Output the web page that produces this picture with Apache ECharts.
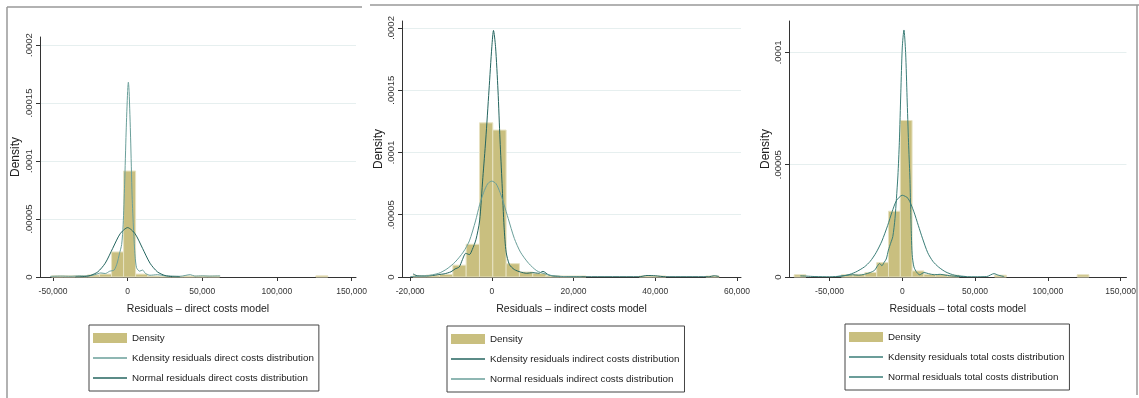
<!DOCTYPE html>
<html>
<head>
<meta charset="utf-8">
<script src="https://cdn.jsdelivr.net/npm/echarts@6/dist/echarts.min.js"></script>
<style>
  html, body { margin: 0; padding: 0; background: #fff; }
  #chart { width: 1139px; height: 398px; }
</style>
</head>
<body>
<div id="chart"></div>
<script>
// histogram bins (edges) and densities
const directEdges = [-51000, -42950, -34900, -26850, -18800, -10750, -2700, 5350, 13400, 21450, 29500, 37550,
  45600, 53650, 61700, 69750, 77800, 85850, 93900, 101950, 110000, 118050, 126100, 134150];
const directDensity = [0.0000010, 0.0000010, 0.0000010, 0.0000018, 0.0000025, 0.0000216, 0.0000914, 0.0000025,
  0.0000008, 0.0000005, 0.0000005, 0.0000008, 0.0000008, 0.0000008, 0, 0, 0, 0, 0, 0, 0, 0, 0.0000010];

const indirectEdges = [-19330, -16070, -12810, -9550, -6290, -3030, 230, 3490, 6750, 10010, 13270, 16530,
  19790, 23050, 26310, 29570, 32830, 36090, 39350, 42610, 45870, 49130, 52390, 55650];
const indirectDensity = [0.0000010, 0.0000015, 0.0000020, 0.0000095, 0.0000263, 0.0001238, 0.0001180, 0.0000107,
  0.0000040, 0.0000028, 0.0000010, 0.0000008, 0.0000008, 0, 0, 0, 0, 0.0000008, 0.0000008, 0, 0, 0, 0.0000008];

const totalEdges = [-74260, -66160, -58060, -49960, -41860, -33760, -25660, -17560, -9460, -1360, 6740, 14840,
  22940, 31040, 39140, 47240, 55340, 63440, 71540, 79640, 87740, 95840, 103940, 112040, 120140, 128240];
const totalDensity = [0.0000010, 0, 0, 0, 0.0000010, 0.0000012, 0.0000020, 0.0000064, 0.0000293, 0.0000697,
  0.0000027, 0.0000012, 0.0000010, 0.0000008, 0, 0, 0, 0.0000008, 0, 0, 0, 0, 0, 0, 0.0000010];

// kernel density curves
const directKdensity = [[-52000, 0.0000005], [-45000, 0.0000008], [-38000, 0.0000006], [-32000, 0.0000010],
  [-27000, 0.0000008], [-22000, 0.0000020], [-18000, 0.0000035], [-15000, 0.0000030], [-12000, 0.0000050],
  [-9000, 0.0000060], [-7000, 0.000012], [-5500, 0.000020], [-4000, 0.000028], [-3000, 0.000045],
  [-2000, 0.000080], [-1000, 0.000125], [0, 0.000160], [500, 0.000168], [1000, 0.000160], [2000, 0.000120],
  [3000, 0.000070], [4000, 0.000040], [5000, 0.000018], [6000, 0.000008], [8000, 0.000005], [10000, 0.000006],
  [12000, 0.000003], [15000, 0.0000015], [20000, 0.0000020], [25000, 0.0000010], [30000, 0.0000008],
  [35000, 0.0000006], [42000, 0.0000020], [45000, 0.0000008], [50000, 0.0000010], [55000, 0.0000008],
  [62000, 0.0000010]];
const indirectKdensity = [[-19300, 0.0000025], [-18300, 0.0000010], [-16000, 0.0000008], [-14500, 0.0000012],
  [-13000, 0.0000020], [-11700, 0.0000025], [-10000, 0.0000042], [-9000, 0.0000065], [-8000, 0.0000080],
  [-7200, 0.000014], [-6400, 0.000019], [-5500, 0.000018], [-4800, 0.000022], [-3900, 0.000030],
  [-3000, 0.000045], [-2200, 0.000080], [-1500, 0.000110], [-700, 0.000150], [0, 0.000185], [400, 0.000198],
  [900, 0.000185], [1500, 0.000150], [2000, 0.000110], [2500, 0.000075], [3000, 0.000040], [3500, 0.000020],
  [4300, 0.000010], [5500, 0.000006], [7000, 0.000004], [8500, 0.000003], [10000, 0.0000035],
  [11500, 0.000003], [12500, 0.0000045], [14000, 0.0000015], [16000, 0.0000005], [20000, 0.0000003],
  [23000, 0.0000002], [36000, 0.0000002], [38000, 0.0000012], [40000, 0.0000010], [42500, 0.0000002],
  [53000, 0.0000002], [54500, 0.0000010], [55600, 0.0000004]];
const totalKdensity = [[-70000, 0.0000005], [-66000, 0.0000004], [-60000, 0.0000002], [-50000, 0.0000001],
  [-42000, 0.0000004], [-38000, 0.0000008], [-34000, 0.0000010], [-30000, 0.0000008], [-26000, 0.0000012],
  [-22000, 0.0000020], [-19000, 0.0000030], [-17000, 0.0000050], [-15500, 0.0000060], [-14000, 0.0000050],
  [-12500, 0.0000065], [-11000, 0.0000080], [-9500, 0.000012], [-8000, 0.000015], [-6500, 0.000018],
  [-5000, 0.000026], [-4000, 0.000035], [-3000, 0.000045], [-2000, 0.000060], [-1000, 0.000082],
  [0, 0.000102], [1150, 0.000110], [2300, 0.000100], [3300, 0.000080], [4300, 0.000060], [5200, 0.000045],
  [5800, 0.000030], [6300, 0.000018], [6800, 0.000010], [8000, 0.0000045], [10000, 0.0000020],
  [12000, 0.0000010], [15000, 0.0000020], [18000, 0.0000015], [22000, 0.0000010], [26000, 0.0000012],
  [30000, 0.0000008], [35000, 0.0000004], [40000, 0.0000002], [50000, 0.0000001], [58000, 0.0000002],
  [63000, 0.0000015], [66000, 0.0000008], [70000, 0.0000002]];

// normal curves
const directNormal = [[-35000, 0.0000001], [-30000, 0.0000003], [-25000, 0.0000013], [-20000, 0.0000044],
  [-15000, 0.0000119], [-10000, 0.0000247], [-5000, 0.0000373], [0, 0.0000426], [5000, 0.0000373],
  [10000, 0.0000247], [15000, 0.0000119], [20000, 0.0000044], [25000, 0.0000013], [30000, 0.0000003],
  [35000, 0.0000001]];
const indirectNormal = [[-20000, 0.0000003], [-16000, 0.0000010], [-13000, 0.0000030], [-11000, 0.0000065],
  [-9000, 0.000012], [-7000, 0.000020], [-5500, 0.000029], [-4000, 0.000045], [-3000, 0.000058],
  [-2000, 0.000068], [-1000, 0.000075], [0, 0.000077], [1000, 0.000075], [2000, 0.000068], [3000, 0.000058],
  [4000, 0.000047], [5500, 0.000031], [7000, 0.000020], [9000, 0.000011], [11000, 0.0000050],
  [13000, 0.0000025], [15000, 0.0000010], [18000, 0.0000003], [22000, 0]];
const totalNormal = [[-45000, 0.0000002], [-38000, 0.0000008], [-32000, 0.0000022], [-26000, 0.0000045],
  [-22000, 0.0000070], [-18000, 0.0000108], [-14000, 0.000016], [-10000, 0.000023], [-7000, 0.000029],
  [-4000, 0.000034], [0, 0.0000364], [4000, 0.000035], [8000, 0.000029], [11000, 0.000023], [14000, 0.000017],
  [17500, 0.0000108], [21000, 0.0000070], [25000, 0.0000044], [30000, 0.0000022], [36000, 0.0000008],
  [44000, 0.0000002]];

// tick labels
const directXTicks = [-50000, 0, 50000, 100000, 150000];
const indirectXTicks = [-20000, 0, 20000, 40000, 60000];
const totalXTicks = [-50000, 0, 50000, 100000, 150000];
const directYTicks = [0, 0.00005, 0.0001, 0.00015, 0.0002];
const indirectYTicks = [0, 0.00005, 0.0001, 0.00015, 0.0002];
const totalYTicks = [0, 0.00005, 0.0001];

const FONT = '"Liberation Sans", Arial, sans-serif';
const BAR_COLOR = "#c9bf7f";
const DARK_TEAL = "#24655f";
const LIGHT_TEAL = "#6a9f9a";
const LINE_ICON = "path://M0,0H34V1.6H0Z";

function toBins(edges, dens) {
  return dens.map((d, i) => [edges[i], edges[i + 1], d]).filter((b) => b[2] > 0);
}

function yFormat(v) {
  if (v === 0) return "0";
  return String(+v.toFixed(6)).replace(/^0\./, ".");
}

function xAxis(idx, min, max, ticks, name) {
  return {
    type: "value",
    gridIndex: idx,
    min: min,
    max: max,
    name: name,
    nameLocation: "middle",
    nameGap: 27,
    nameTextStyle: { fontFamily: FONT, fontSize: 10.5, color: "#222" },
    axisLine: { onZero: false, lineStyle: { color: "#333", width: 1 } },
    axisTick: { show: true, length: 4, customValues: ticks, lineStyle: { color: "#333" } },
    axisLabel: {
      customValues: ticks,
      formatter: (v) => v.toLocaleString("en-US"),
      fontFamily: FONT,
      fontSize: 8.5,
      color: "#333",
      margin: 10,
    },
    splitLine: { show: false },
  };
}

function yAxis(idx, max, ticks, gap) {
  return {
    type: "value",
    gridIndex: idx,
    min: 0,
    max: max,
    name: "Density",
    nameLocation: "middle",
    nameRotate: 90,
    nameGap: gap,
    nameTextStyle: { fontFamily: FONT, fontSize: 12, color: "#222" },
    axisLine: { show: true, onZero: false, lineStyle: { color: "#333", width: 1 } },
    axisTick: { show: true, length: 4, customValues: ticks, lineStyle: { color: "#333" } },
    axisLabel: {
      customValues: ticks,
      rotate: 90,
      formatter: yFormat,
      fontFamily: FONT,
      fontSize: 9.5,
      color: "#333",
      margin: 6,
    },
    splitLine: { show: true, lineStyle: { color: "#e6efef", width: 1 } },
  };
}

function histSeries(idx, bins) {
  return {
    type: "custom",
    name: "Density",
    xAxisIndex: idx,
    yAxisIndex: idx,
    itemStyle: { color: BAR_COLOR },
    data: bins,
    encode: { x: [0, 1], y: 2 },
    z: 1,
    renderItem: function (params, api) {
      const p0 = api.coord([api.value(0), api.value(2)]);
      const p1 = api.coord([api.value(1), 0]);
      return {
        type: "rect",
        shape: { x: p0[0], y: p0[1], width: p1[0] - p0[0], height: p1[1] - p0[1] },
        style: { fill: BAR_COLOR, stroke: "#e7e2c2", lineWidth: 1 },
      };
    },
  };
}

function lineSeries(idx, name, data, color) {
  return {
    type: "line",
    name: name,
    xAxisIndex: idx,
    yAxisIndex: idx,
    data: data,
    symbol: "none",
    showSymbol: false,
    smooth: 0.25,
    z: 3,
    itemStyle: { color: color },
    lineStyle: { color: color, width: 1 },
  };
}

function legend(left, top, names) {
  return {
    orient: "vertical",
    left: left,
    top: top,
    data: [{ name: "Density", icon: "rect" }].concat(names.map((n) => ({ name: n, icon: LINE_ICON }))),
    itemWidth: 34,
    itemHeight: 10,
    itemGap: 6,
    symbolKeepAspect: true,
    padding: [6, 5, 6, 4],
    borderColor: "#444",
    borderWidth: 1,
    selectedMode: false,
    textStyle: { fontFamily: FONT, fontSize: 9.8, color: "#222", lineHeight: 14 },
  };
}

const names = {
  dk: "Kdensity residuals direct costs distribution",
  dn: "Normal residuals direct costs distribution",
  ik: "Kdensity residuals indirect costs distribution",
  in: "Normal residuals indirect costs distribution",
  tk: "Kdensity residuals total costs distribution",
  tn: "Normal residuals total costs distribution",
};

const chart = echarts.init(document.getElementById("chart"), null, { renderer: "canvas" });

chart.setOption({
  animation: false,
  backgroundColor: "#fff",
  grid: [
    { left: 40, top: 37, width: 316, height: 240 },
    { left: 402, top: 21, width: 339, height: 256 },
    { left: 789, top: 21, width: 341, height: 256 },
  ],
  xAxis: [
    xAxis(0, -58700, 153000, directXTicks, "Residuals \u2013 direct costs model"),
    xAxis(1, -22000, 61000, indirectXTicks, "Residuals \u2013 indirect costs model"),
    xAxis(2, -77800, 154000, totalXTicks, "Residuals \u2013 total costs model"),
  ],
  yAxis: [
    yAxis(0, 0.000207, directYTicks, 18),
    yAxis(1, 0.0002056, indirectYTicks, 17),
    yAxis(2, 0.000114, totalYTicks, 16),
  ],
  legend: [
    legend(89, 325, [names.dk, names.dn]),
    legend(447, 326, [names.ik, names.in]),
    legend(845, 324, [names.tk, names.tn]),
  ],
  graphic: [
    { type: "line", shape: { x1: 7, y1: 7, x2: 362, y2: 7 }, style: { stroke: "#999", lineWidth: 1.5 } },
    { type: "line", shape: { x1: 7, y1: 7, x2: 7, y2: 398 }, style: { stroke: "#999", lineWidth: 1.5 } },
    { type: "line", shape: { x1: 370, y1: 5, x2: 1139, y2: 5 }, style: { stroke: "#999", lineWidth: 1.5 } },
    { type: "line", shape: { x1: 1137, y1: 5, x2: 1137, y2: 395 }, style: { stroke: "#999", lineWidth: 1.5 } },
  ],
  series: [
    histSeries(0, toBins(directEdges, directDensity)),
    lineSeries(0, names.dk, directKdensity, LIGHT_TEAL),
    lineSeries(0, names.dn, directNormal, DARK_TEAL),
    histSeries(1, toBins(indirectEdges, indirectDensity)),
    lineSeries(1, names.ik, indirectKdensity, DARK_TEAL),
    lineSeries(1, names.in, indirectNormal, LIGHT_TEAL),
    histSeries(2, toBins(totalEdges, totalDensity)),
    lineSeries(2, names.tk, totalKdensity, "#3a7d77"),
    lineSeries(2, names.tn, totalNormal, "#3a7d77"),
  ],
});
</script>
</body>
</html>
